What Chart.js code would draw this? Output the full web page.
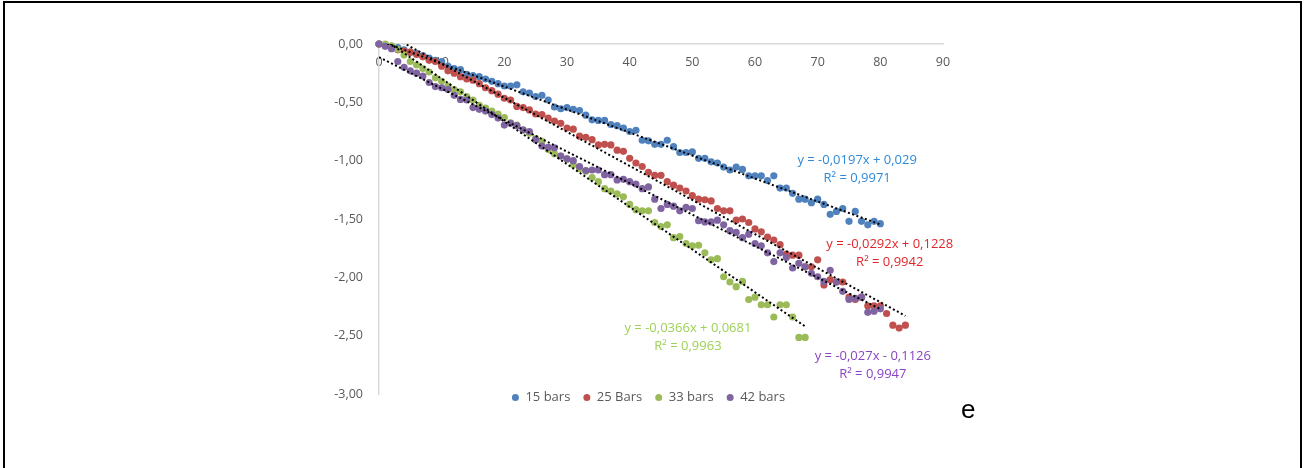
<!DOCTYPE html>
<html lang="en">
<head>
    <meta charset="UTF-8">
    <title>Trend lines per bar count</title>
    <script src="https://cdn.jsdelivr.net/npm/chart.js"></script>
    <style>
        html, body { margin: 0; padding: 0; background: #fff; }
        body { width: 1304px; height: 468px; overflow: hidden; position: relative; font-family: 'Open Sans', sans-serif; }
        #frame { position: absolute; left: 3px; top: 1px; width: 1295px; height: 500px; border: 2px solid #000; }
        #wrap { position: absolute; left: 300px; top: 20px; width: 696px; height: 410px; }
        #tag { position: absolute; left: 961px; top: 394px; font: 26px 'Liberation Sans', Arial, sans-serif; color: #000; }
    </style>
</head>
<body>
    <div id="frame"></div>
    <div id="wrap"><canvas id="trendChart" width="696" height="410"></canvas></div>
    <div id="tag">e</div>

    <script>
        // values, x = 0, 1, 2, ...
        const bars15 = [0, -0.01, -0.02, -0.03, -0.05, -0.07, -0.08, -0.10, -0.12, -0.14,
            -0.15, -0.19, -0.21, -0.22, -0.26, -0.27, -0.28, -0.30, -0.32, -0.34,
            -0.36, -0.36, -0.35, -0.41, -0.42, -0.45, -0.44, -0.48, -0.54, -0.555,
            -0.545, -0.56, -0.57, -0.61, -0.65, -0.655, -0.655, -0.69, -0.70, -0.72,
            -0.75, -0.74, -0.825, -0.83, -0.86, -0.86, -0.825, -0.88, -0.93, -0.93,
            -0.925, -0.98, -0.98, -1.01, -1.02, -1.055, -1.08, -1.055, -1.075, -1.13,
            -1.13, -1.13, -1.17, -1.13, -1.235, -1.235, -1.28, -1.33, -1.33, -1.36,
            -1.33, -1.375, -1.46, -1.435, -1.41, -1.52, -1.435, -1.52, -1.55, -1.52,
            -1.54];
        const bars25 = [0, -0.01, -0.03, -0.05, -0.06, -0.07, -0.09, -0.11, -0.14, -0.15,
            -0.19, -0.23, -0.25, -0.28, -0.30, -0.31, -0.34, -0.375, -0.40, -0.43,
            -0.465, -0.48, -0.535, -0.545, -0.565, -0.60, -0.605, -0.636, -0.66, -0.68,
            -0.72, -0.73, -0.79, -0.80, -0.82, -0.865, -0.86, -0.865, -0.91, -0.92,
            -0.98, -1.02, -1.05, -1.10, -1.126, -1.126, -1.18, -1.21, -1.235, -1.26,
            -1.30, -1.33, -1.335, -1.345, -1.41, -1.43, -1.43, -1.51, -1.50, -1.53,
            -1.585, -1.61, -1.655, -1.68, -1.72, -1.80, -1.81, -1.81, -1.91, -1.91,
            -1.85, -2.065, -2.02, -2.04, -2.04, -2.17, -2.19, -2.17, -2.245, -2.245,
            -2.245, -2.31, -2.41, -2.435, -2.41];
        const bars33 = [0, 0, -0.015, -0.045, -0.095, -0.15, -0.18, -0.21, -0.24, -0.29,
            -0.32, -0.36, -0.39, -0.41, -0.45, -0.48, -0.525, -0.55, -0.575, -0.60,
            -0.63, -0.675, -0.695, -0.74, -0.765, -0.81, -0.835, -0.905, -0.94, -0.96,
            -0.985, -1.035, -1.07, -1.09, -1.145, -1.18, -1.24, -1.26, -1.285, -1.31,
            -1.375, -1.42, -1.43, -1.43, -1.53, -1.565, -1.55, -1.66, -1.65, -1.71,
            -1.73, -1.725, -1.79, -1.85, -1.84, -1.995, -2.04, -2.08, -2.035, -2.19,
            -2.17, -2.235, -2.235, -2.34, -2.235, -2.235, -2.34, -2.515, -2.515];
        const bars42 = [0, -0.02, -0.04, -0.15, -0.20, -0.23, -0.25, -0.275, -0.33, -0.365,
            -0.375, -0.39, -0.44, -0.475, -0.48, -0.545, -0.56, -0.575, -0.605, -0.635,
            -0.695, -0.68, -0.70, -0.735, -0.75, -0.82, -0.875, -0.885, -0.89, -0.96,
            -0.985, -1.00, -1.05, -1.085, -1.08, -1.08, -1.12, -1.12, -1.165, -1.16,
            -1.18, -1.20, -1.24, -1.225, -1.33, -1.41, -1.375, -1.39, -1.43, -1.40,
            -1.41, -1.515, -1.525, -1.525, -1.51, -1.55, -1.60, -1.615, -1.66, -1.63,
            -1.71, -1.73, -1.79, -1.865, -1.79, -1.83, -1.92, -1.88, -1.91, -1.965,
            -1.995, -2.035, -1.94, -2.04, -2.12, -2.19, -2.18, -2.17, -2.30, -2.29,
            -2.27];

        const seriesNames = ['15 bars', '25 Bars', '33 bars', '42 bars'];
        const seriesValues = [bars15, bars25, bars33, bars42];

        // trend line equations as printed on the chart
        const slopes = [-0.0197, -0.0292, -0.0366, -0.027];
        const intercepts = [0.029, 0.1228, 0.0681, -0.1126];
        const equations = ['y = -0,0197x + 0,029', 'y = -0,0292x + 0,1228', 'y = -0,0366x + 0,0681', 'y = -0,027x - 0,1126'];
        const rSquared = ['0,9971', '0,9942', '0,9963', '0,9947'];

        const dotColors = ['#4F81BD', '#C0504D', '#9BBB59', '#8064A2'];
        const textColors = ['#2E8AD8', '#E0262B', '#9ED158', '#8A43C4'];
        // where each equation label sits, in data units
        const labelSpots = [[76.3, -0.997], [81.5, -1.72], [49.3, -2.44], [78.8, -2.68]];

        const gray = '#595959';

        const datasets = [];
        seriesValues.forEach((vals, i) => {
            datasets.push({
                label: seriesNames[i],
                data: vals.map((v, x) => ({ x: x, y: v })),
                backgroundColor: dotColors[i],
                borderColor: dotColors[i],
                pointRadius: 3.6,
                pointBorderWidth: 0,
                showLine: false,
                clip: false,
                order: 4 - i
            });
        });
        seriesValues.forEach((vals, i) => {
            const xEnd = vals.length - 1;
            datasets.push({
                label: 'trend ' + seriesNames[i],
                data: [
                    { x: 0, y: intercepts[i] },
                    { x: xEnd, y: slopes[i] * xEnd + intercepts[i] }
                ],
                showLine: true,
                borderColor: '#000',
                borderWidth: 2,
                borderDash: [2, 2.5],
                pointRadius: 0,
                order: 0
            });
        });

        const eqLabels = {
            id: 'eqLabels',
            afterDatasetsDraw(chart) {
                const { ctx, scales } = chart;
                ctx.save();
                ctx.font = '13px "Open Sans"';
                ctx.textAlign = 'center';
                ctx.textBaseline = 'middle';
                labelSpots.forEach((spot, i) => {
                    const px = scales.x.getPixelForValue(spot[0]);
                    const py = scales.y.getPixelForValue(spot[1]);
                    ctx.fillStyle = textColors[i];
                    ctx.fillText(equations[i], px, py);
                    ctx.fillText('R² = ' + rSquared[i], px, py + 18);
                });
                ctx.restore();
            }
        };

        // pull the legend up under the plot and centre it on the whole canvas
        const legendLift = {
            id: 'legendLift',
            afterLayout(chart) {
                const lg = chart.legend;
                lg.top -= 16;
                lg.bottom -= 16;
                lg.left += 27;
                lg.right += 27;
            }
        };

        new Chart(document.getElementById('trendChart'), {
            type: 'scatter',
            data: { datasets: datasets },
            plugins: [eqLabels, legendLift],
            options: {
                responsive: false,
                animation: false,
                layout: { padding: { left: 0, top: 24, right: 53, bottom: 0 } },
                scales: {
                    x: {
                        type: 'linear',
                        position: { y: 0 },
                        min: 0,
                        max: 90,
                        grid: { display: false, drawTicks: false },
                        border: { display: true, color: '#d9d9d9', width: 1.5 },
                        ticks: {
                            stepSize: 10,
                            padding: 11,
                            color: gray,
                            font: { family: 'Open Sans', size: 12.5 }
                        }
                    },
                    y: {
                        min: -3,
                        max: 0,
                        grid: { display: false, drawTicks: false },
                        border: { display: true, color: '#d9d9d9', width: 1.5 },
                        afterFit(scale) { scale.width = 79; },
                        ticks: {
                            stepSize: 0.5,
                            padding: 16,
                            color: gray,
                            font: { family: 'Open Sans', size: 12.5 },
                            callback: v => Math.abs(v).toFixed(2) === '0.00' ? '0,00' : v.toFixed(2).replace('.', ',')
                        }
                    }
                },
                plugins: {
                    tooltip: { enabled: false },
                    legend: {
                        position: 'bottom',
                        labels: {
                            usePointStyle: true,
                            pointStyle: 'circle',
                            boxHeight: 5,
                            pointStyleWidth: 7,
                            padding: 13,
                            color: gray,
                            font: { family: 'Open Sans', size: 13 },
                            filter: item => item.datasetIndex < 4,
                            sort: (a, b) => a.datasetIndex - b.datasetIndex
                        }
                    }
                }
            }
        });
    </script>
</body>
</html>
